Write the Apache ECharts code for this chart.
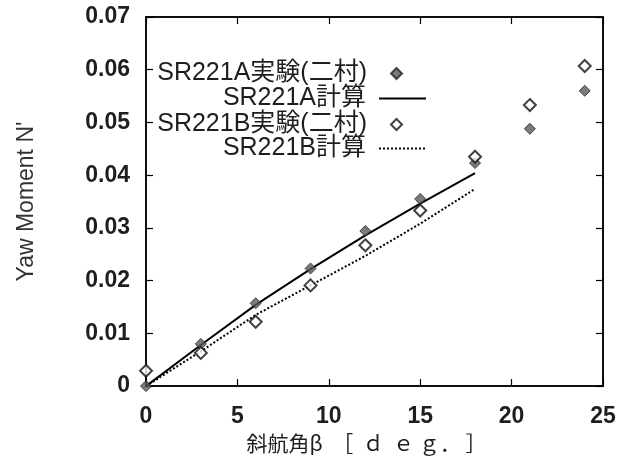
<!DOCTYPE html>
<html>
<head>
<meta charset="utf-8">
<script src="https://cdn.jsdelivr.net/npm/echarts@6/dist/echarts.min.js"></script>
<style>
  html, body { margin: 0; padding: 0; background: #fff; }
  #main { width: 621px; height: 459px; }
</style>
</head>
<body>
<div id="main"></div>
<script>
// drift angle beta [deg]
const betaExp = [0, 3, 6, 9, 12, 15, 18, 21, 24];
const betaCalc = [0, 3, 6, 9, 12, 15, 18];

// yaw moment N'
const aExp = [0, 0.0080, 0.0157, 0.0223, 0.0294, 0.0355, 0.0423, 0.0488, 0.0560];
const aCalc = [0, 0.0078, 0.0154, 0.0222, 0.0286, 0.0346, 0.0404];
const bExp = [0.0029, 0.0063, 0.0122, 0.0191, 0.0267, 0.0333, 0.0435, 0.0533, 0.0607];
const bCalc = [0, 0.0066, 0.0135, 0.0191, 0.0247, 0.0308, 0.0374];

const names = ["SR221A実験(二村)", "SR221A計算", "SR221B実験(二村)", "SR221B計算"];

const pairs = (xs, ys) => xs.map((x, i) => [x, ys[i]]);

const chartDom = document.getElementById("main");
const myChart = echarts.init(chartDom);

const textFont = "'Liberation Sans', 'Noto Sans CJK JP', sans-serif";
const ink = "#1e1e1e";

// one legend component per row so the icons line up on the right
const markRow = (name, top) => ({
  data: [{ name: name, icon: "diamond" }],
  top: top,
  right: 218,
  align: "right",
  itemWidth: 11,
  itemHeight: 11,
  selectedMode: false,
  padding: 0,
  textStyle: { fontFamily: textFont, fontSize: 25, color: ink, padding: [0, 19, 0, 0] },
});
const lineRow = (name, top) => ({
  data: [name],
  top: top,
  right: 194,
  align: "right",
  itemWidth: 47,
  itemHeight: 11,
  selectedMode: false,
  padding: 0,
  itemStyle: { opacity: 0 },
  textStyle: { fontFamily: textFont, fontSize: 25, color: ink, padding: [0, 8, 0, 0] },
});

const tick = { show: true, inside: true, length: 7, lineStyle: { color: "#000", width: 1.2 } };
const line = { show: true, onZero: false, lineStyle: { color: "#000", width: 1.5 } };

const option = {
  animation: false,
  backgroundColor: "#fff",
  grid: {
    left: 146, right: 18, top: 17, bottom: 67,
    show: true, borderColor: "#000", borderWidth: 1.5,
  },
  legend: [
    markRow(names[0], 61),
    lineRow(names[1], 86),
    markRow(names[2], 112),
    lineRow(names[3], 136),
  ],
  xAxis: [
    {
      type: "value",
      min: 0,
      max: 25,
      interval: 5,
      name: "斜航角β  ［  ｄ  ｅ ｇ． ］",
      nameLocation: "middle",
      nameGap: 38,
      nameTextStyle: {
        fontFamily: "'Noto Sans CJK JP', serif",
        fontSize: 21,
        color: ink,
        padding: [0, 16, 0, 0],
      },
      axisLine: line,
      axisTick: tick,
      axisLabel: { fontFamily: textFont, fontSize: 23, fontWeight: "bold", color: ink, margin: 19 },
      splitLine: { show: false },
    },
    {
      type: "value",
      position: "top",
      min: 0,
      max: 25,
      interval: 5,
      axisLine: line,
      axisTick: tick,
      axisLabel: { show: false },
      splitLine: { show: false },
    },
  ],
  yAxis: [
    {
      type: "value",
      min: 0,
      max: 0.07,
      interval: 0.01,
      name: "Yaw Moment N'",
      nameLocation: "middle",
      nameGap: 108,
      nameTextStyle: { fontFamily: textFont, fontSize: 23, color: "#333" },
      axisLine: line,
      axisTick: tick,
      axisLabel: {
        fontFamily: textFont,
        fontSize: 23,
        fontWeight: "bold",
        color: ink,
        margin: 16,
        formatter: (v) => (v === 0 ? "0" : v.toFixed(2)),
      },
      splitLine: { show: false },
    },
    {
      type: "value",
      position: "right",
      min: 0,
      max: 0.07,
      interval: 0.01,
      axisLine: line,
      axisTick: tick,
      axisLabel: { show: false },
      splitLine: { show: false },
    },
  ],
  series: [
    {
      name: names[0],
      type: "scatter",
      symbol: "diamond",
      symbolSize: 11,
      z: 4,
      itemStyle: { color: "#5a5a5a", borderColor: "#222", borderWidth: 1 },
      data: pairs(betaExp, aExp),
    },
    {
      name: names[1],
      type: "line",
      symbol: "none",
      z: 3,
      lineStyle: { color: "#000", width: 2, type: "solid" },
      itemStyle: { color: "#000" },
      data: pairs(betaCalc, aCalc),
    },
    {
      name: names[2],
      type: "scatter",
      symbol: "diamond",
      symbolSize: 12,
      z: 5,
      itemStyle: { color: "#fff", borderColor: "#111", borderWidth: 2 },
      data: pairs(betaExp, bExp),
    },
    {
      name: names[3],
      type: "line",
      symbol: "none",
      z: 3,
      lineStyle: { color: "#000", width: 2, type: [2, 2] },
      itemStyle: { color: "#000" },
      data: pairs(betaCalc, bCalc),
    },
    // invisible copy on the mirror axes so the top / right ticks get drawn
    {
      type: "line",
      xAxisIndex: 1,
      yAxisIndex: 1,
      symbol: "none",
      silent: true,
      lineStyle: { opacity: 0 },
      data: pairs(betaCalc, aCalc),
    },
  ],
};

option && myChart.setOption(option);
</script>
</body>
</html>
